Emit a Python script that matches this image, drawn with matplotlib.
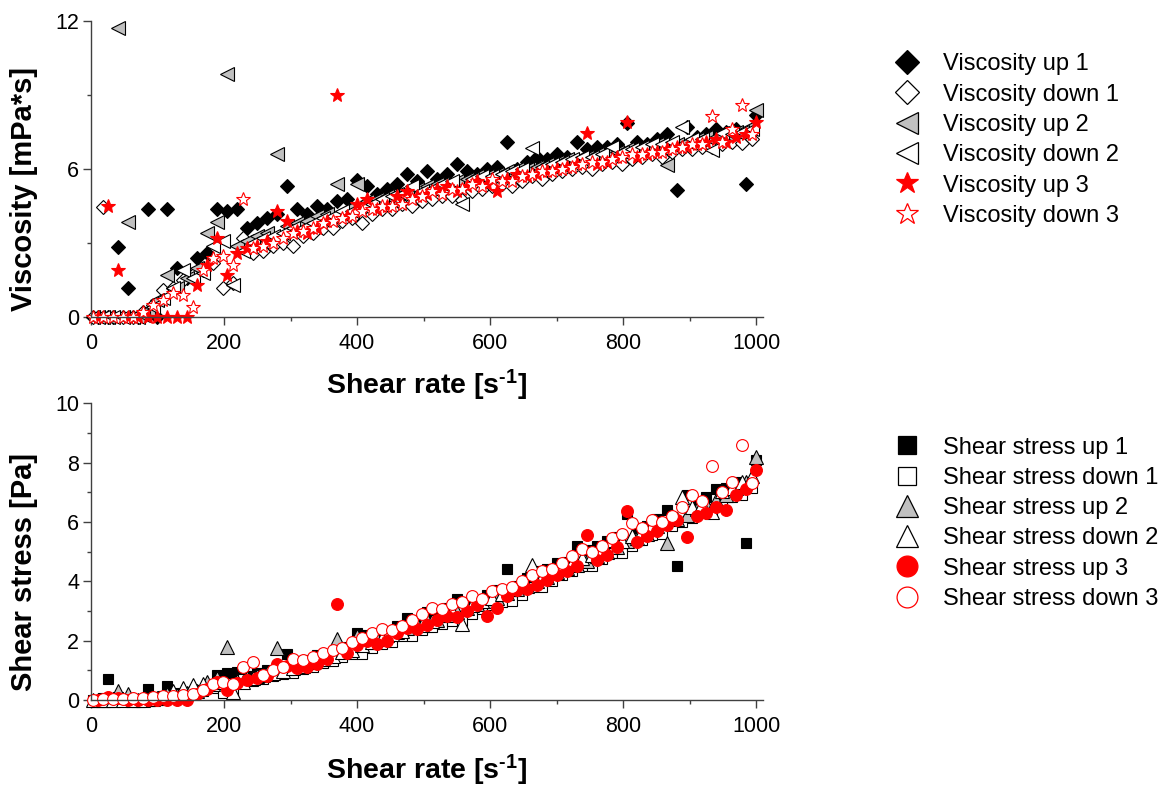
import matplotlib
matplotlib.use("Agg")
import matplotlib.pyplot as plt
from matplotlib.lines import Line2D
from matplotlib.ticker import MultipleLocator

plt.rcParams["font.family"] = ["Liberation Sans", "DejaVu Sans"]
plt.rcParams["mathtext.fontset"] = "custom"
plt.rcParams["mathtext.rm"] = "Liberation Sans:bold"
plt.rcParams["mathtext.bf"] = "Liberation Sans:bold"
plt.rcParams["mathtext.default"] = "regular"

# Shear-rate ramps (s^-1)
rate_up = [10, 25, 40, 55, 70, 85, 100, 115, 130, 145,
           160, 175, 190, 205, 220, 235, 250, 265, 280, 295,
           310, 325, 340, 355, 370, 385, 400, 415, 430, 445,
           460, 475, 490, 505, 520, 535, 550, 565, 580, 595,
           610, 625, 640, 655, 670, 685, 700, 715, 730, 745,
           760, 775, 790, 805, 820, 835, 850, 865, 880, 895,
           910, 925, 940, 955, 970, 985, 1000]
rate_down = [3, 18, 33, 48, 63, 78, 93, 108, 123, 138,
             153, 168, 183, 198, 213, 228, 243, 258, 273, 288,
             303, 318, 333, 348, 363, 378, 393, 408, 423, 438,
             453, 468, 483, 498, 513, 528, 543, 558, 573, 588,
             603, 618, 633, 648, 663, 678, 693, 708, 723, 738,
             753, 768, 783, 798, 813, 828, 843, 858, 873, 888,
             903, 918, 933, 948, 963, 978, 993]

# Viscosity (mPa*s)
visc_up1 = [0, 0, 2.85, 1.2, 0, 4.4, 0, 4.4, 2.0, 1.6,
            2.4, 2.6, 4.4, 4.3, 4.4, 3.6, 3.8, 4.0, 4.2, 5.3,
            4.4, 4.2, 4.5, 4.4, 4.7, 4.8, 5.55, 5.3, 5.0, 5.2,
            5.4, 5.8, 5.5, 5.9, 5.6, 5.8, 6.2, 5.9, 5.8, 6.0,
            6.1, 7.1, 6.0, 6.3, 6.5, 6.4, 6.6, 6.5, 7.1, 6.8,
            6.9, 6.9, 7.0, 7.85, 7.1, 7.0, 7.2, 7.4, 5.15, 7.7,
            7.3, 7.4, 7.6, 7.5, 7.6, 5.4, 8.2]
visc_down1 = [0, 4.45, 0, 0, 0, 0.2, 0.5, 1.1, 1.2, 1.5,
              1.7, 1.9, 2.2, 1.2, 1.4, 3.2, 2.6, 2.7, 2.9, 3.0,
              2.9, 3.3, 3.4, 3.6, 3.6, 3.9, 4.0, 3.8, 4.2, 4.4,
              4.4, 4.6, 4.5, 4.7, 4.8, 4.9, 4.9, 4.75, 5.1, 5.2,
              5.3, 5.4, 5.3, 5.5, 5.7, 5.6, 5.8, 5.9, 6.0, 6.1,
              6.0, 6.2, 6.3, 6.2, 6.4, 6.5, 6.6, 6.5, 6.7, 6.8,
              6.8, 6.9, 6.9, 7.0, 7.1, 7.05, 7.2]
visc_up2 = [0, 0, 11.7, 3.85, 0, 0.3, 0.7, 1.7, 1.2, 1.6,
            2.0, 3.4, 3.85, 9.85, 2.9, 3.1, 3.3, 3.4, 6.6, 3.7,
            3.8, 3.9, 4.1, 4.2, 5.4, 4.4, 5.4, 4.7, 4.8, 4.9,
            5.0, 5.1, 5.2, 5.3, 5.4, 5.4, 5.5, 5.6, 5.7, 5.7,
            5.8, 5.9, 6.0, 6.0, 6.1, 6.2, 6.3, 6.4, 6.4, 6.5,
            6.6, 6.6, 6.7, 6.8, 6.8, 6.9, 7.0, 6.15, 7.0, 7.1,
            7.2, 7.3, 7.3, 7.4, 7.5, 7.6, 8.4]
visc_down2 = [0, 0, 0, 0, 0, 0.1, 0.4, 0.8, 1.2, 1.9,
              1.6, 1.8, 2.9, 3.1, 1.3, 2.7, 3.0, 3.2, 3.3, 3.4,
              3.6, 3.6, 3.8, 4.0, 4.1, 4.3, 4.3, 4.5, 4.6, 4.8,
              4.9, 5.0, 5.3, 5.1, 5.2, 5.4, 5.5, 4.6, 5.6, 5.7,
              5.7, 5.8, 5.9, 6.0, 6.85, 6.1, 6.2, 6.3, 6.4, 6.5,
              6.5, 6.6, 6.9, 6.7, 6.8, 6.9, 7.0, 7.0, 7.1, 7.7,
              7.2, 7.2, 6.77, 7.45, 7.4, 7.5, 7.6]
visc_up3 = [0, 4.5, 1.9, 0, 0, 0, 0, 0, 0, 0,
            1.3, 2.1, 3.2, 1.7, 2.6, 2.8, 2.9, 3.1, 4.3, 3.9,
            3.5, 3.4, 3.6, 3.9, 9.0, 4.1, 4.6, 4.8, 4.4, 4.5,
            4.9, 5.1, 4.9, 5.0, 5.2, 5.3, 5.1, 5.3, 5.5, 5.4,
            5.1, 5.6, 5.8, 5.7, 5.8, 5.9, 6.0, 6.1, 6.2, 7.47,
            6.2, 6.3, 6.5, 7.92, 6.5, 6.6, 6.7, 6.8, 6.9, 6.9,
            7.0, 7.1, 7.2, 7.1, 7.3, 7.4, 7.9]
visc_down3 = [0, 0, 0, 0, 0, 0.2, 0.5, 0.7, 1.0, 0.9,
              0.4, 1.9, 2.4, 2.5, 2.1, 4.8, 2.8, 2.9, 3.0, 3.2,
              3.4, 3.5, 3.6, 3.8, 3.9, 4.0, 4.1, 4.3, 4.4, 4.5,
              4.5, 4.6, 4.8, 4.9, 5.1, 5.0, 5.2, 5.2, 5.4, 5.3,
              5.6, 5.5, 5.5, 5.7, 5.8, 5.9, 5.9, 6.0, 6.1, 6.2,
              6.3, 6.3, 6.4, 6.5, 6.6, 6.6, 6.7, 6.7, 6.8, 6.9,
              7.0, 7.0, 8.15, 7.1, 7.6, 8.6, 7.4]

# Shear stress (Pa)
stress_up1 = [0.0, 0.71, 0.1, 0.05, 0.0, 0.37, 0.0, 0.47, 0.25, 0.22,
              0.35, 0.45, 0.85, 0.9, 0.95, 0.8, 0.9, 1.0, 1.15, 1.55,
              1.3, 1.35, 1.5, 1.55, 1.75, 1.8, 2.25, 2.2, 2.15, 2.3,
              2.5, 2.75, 2.7, 2.95, 2.9, 3.1, 3.4, 3.3, 3.35, 3.55,
              3.7, 4.43, 3.85, 4.1, 4.35, 4.4, 4.6, 4.65, 5.2, 5.05,
              5.2, 5.35, 5.5, 6.28, 5.8, 5.85, 6.1, 6.4, 4.5, 6.9,
              6.6, 6.85, 7.1, 7.15, 7.35, 5.3, 8.1]
stress_down1 = [0.0, 0.08, 0.0, 0.0, 0.0, 0.02, 0.05, 0.12, 0.15, 0.2,
                0.26, 0.3, 0.4, 0.25, 0.3, 0.72, 0.64, 0.7, 0.8, 0.86,
                0.9, 1.05, 1.1, 1.25, 1.3, 1.45, 1.55, 1.55, 1.75, 1.9,
                1.95, 2.15, 2.15, 2.35, 2.45, 2.55, 2.65, 2.67, 2.9, 3.05,
                3.2, 3.3, 3.35, 3.55, 3.8, 3.8, 4.0, 4.2, 4.35, 4.5,
                4.5, 4.75, 4.95, 4.95, 5.2, 5.4, 5.55, 5.6, 5.85, 6.0,
                6.15, 6.3, 6.45, 6.6, 6.85, 6.9, 7.15]
stress_up2 = [0.0, 0.0, 0.3, 0.2, 0.0, 0.03, 0.07, 0.2, 0.16, 0.23,
              0.32, 0.6, 0.73, 1.8, 0.64, 0.73, 0.82, 0.9, 1.75, 1.09,
              1.18, 1.27, 1.39, 1.49, 2.05, 1.69, 2.15, 1.95, 2.06, 2.18,
              2.3, 2.42, 2.55, 2.68, 2.7, 2.85, 2.95, 3.1, 3.25, 3.35,
              3.45, 3.6, 3.75, 3.85, 4.0, 4.15, 4.3, 4.45, 4.55, 4.7,
              4.85, 5.0, 5.15, 5.35, 5.45, 5.6, 5.85, 5.3, 6.1, 6.25,
              6.45, 6.6, 6.75, 6.9, 7.15, 7.35, 8.2]
stress_down2 = [0.0, 0.0, 0.0, 0.0, 0.0, 0.01, 0.04, 0.09, 0.3, 0.4,
                0.5, 0.55, 0.53, 0.61, 0.28, 0.62, 0.73, 0.83, 0.9, 0.98,
                1.09, 1.14, 1.27, 1.39, 1.49, 1.63, 1.69, 1.84, 1.95, 2.1,
                2.22, 2.34, 2.56, 2.54, 2.67, 2.85, 2.99, 2.57, 3.21, 3.35,
                3.44, 3.58, 3.73, 3.89, 4.54, 4.14, 4.3, 4.46, 4.63, 4.8,
                4.89, 5.07, 5.4, 5.35, 5.53, 5.71, 5.9, 6.01, 6.2, 6.84,
                6.5, 6.61, 6.32, 7.06, 7.13, 7.34, 7.55]
stress_up3 = [0.0, 0.11, 0.08, 0.0, 0.0, 0.0, 0.0, 0.0, 0.0, 0.0,
              0.21, 0.37, 0.61, 0.35, 0.57, 0.66, 0.73, 0.82, 1.2, 1.15,
              1.09, 1.11, 1.22, 1.38, 3.25, 1.58, 1.84, 1.99, 1.89, 2.0,
              2.25, 2.42, 2.4, 2.53, 2.7, 2.84, 2.8, 2.99, 3.19, 2.84,
              3.11, 3.5, 3.71, 3.73, 3.89, 4.04, 4.2, 4.36, 4.53, 5.56,
              4.71, 4.88, 5.14, 6.38, 5.33, 5.51, 5.7, 5.9, 6.07, 5.5,
              6.2, 6.3, 6.5, 6.4, 6.9, 7.1, 7.75]
stress_down3 = [0.0, 0.02, 0.03, 0.05, 0.06, 0.08, 0.1, 0.12, 0.15, 0.17,
                0.2, 0.35, 0.55, 0.6, 0.55, 1.1, 1.28, 0.85, 1.0, 1.1,
                1.38, 1.35, 1.45, 1.6, 1.7, 1.75, 1.95, 2.1, 2.25, 2.4,
                2.35, 2.5, 2.7, 2.9, 3.1, 3.05, 3.25, 3.3, 3.5, 3.4,
                3.68, 3.75, 3.8, 4.0, 4.2, 4.35, 4.4, 4.6, 4.85, 5.1,
                5.0, 5.2, 5.45, 5.6, 5.95, 5.8, 6.05, 6.0, 6.2, 6.5,
                6.9, 6.7, 7.9, 7.0, 7.35, 8.6, 7.3]

visc_labels = ["Viscosity up 1", "Viscosity down 1", "Viscosity up 2",
               "Viscosity down 2", "Viscosity up 3", "Viscosity down 3"]
stress_labels = ["Shear stress up 1", "Shear stress down 1", "Shear stress up 2",
                 "Shear stress down 2", "Shear stress up 3", "Shear stress down 3"]

GREY = "#c0c0c0"
RED = "#ff0000"
AXC = "#404040"

# (marker, plot size, legend size, face, edge)
visc_styles = [("D", 7.6, 12.5, "black", "black"),
               ("D", 7.6, 12.5, "white", "black"),
               ("<", 9.5, 15.5, GREY, "black"),
               ("<", 9.5, 15.5, "white", "black"),
               ("*", 10.5, 16.5, RED, RED),
               ("*", 10.5, 16.5, "white", RED)]
stress_styles = [("s", 7.8, 12.8, "black", "black"),
                 ("s", 7.8, 12.8, "white", "black"),
                 ("^", 10.0, 15.5, GREY, "black"),
                 ("^", 10.0, 15.5, "white", "black"),
                 ("o", 8.5, 15.0, RED, RED),
                 ("o", 8.5, 15.0, "white", RED)]

visc_series = [(rate_up, visc_up1), (rate_down, visc_down1),
               (rate_up, visc_up2), (rate_down, visc_down2),
               (rate_up, visc_up3), (rate_down, visc_down3)]
stress_series = [(rate_up, stress_up1), (rate_down, stress_down1),
                 (rate_up, stress_up2), (rate_down, stress_down2),
                 (rate_up, stress_up3), (rate_down, stress_down3)]

fig = plt.figure(figsize=(11.75, 7.89), dpi=100)
ax1 = fig.add_axes([0.0774, 0.5978, 0.572, 0.376])
ax2 = fig.add_axes([0.0774, 0.1128, 0.572, 0.3761])


def draw_panel(ax, series, styles, labels, ymax, ymajor, yminor, ylabel,
               ylabel_y, xlabel_y, leg_top):
    for (x, y), (mk, ms, _, fc, ec) in zip(series, styles):
        ax.plot(x, y, linestyle="none", marker=mk, markersize=ms,
                markerfacecolor=fc, markeredgecolor=ec, markeredgewidth=0.8,
                clip_on=False)
    ax.set_xlim(0, 1010)
    ax.set_ylim(0, ymax)
    ax.xaxis.set_major_locator(MultipleLocator(200))
    ax.xaxis.set_minor_locator(MultipleLocator(100))
    ax.yaxis.set_major_locator(MultipleLocator(ymajor))
    ax.yaxis.set_minor_locator(MultipleLocator(yminor))
    for side in ("top", "right"):
        ax.spines[side].set_visible(False)
    for side in ("left", "bottom"):
        ax.spines[side].set_color(AXC)
        ax.spines[side].set_linewidth(1.0)
    ax.tick_params(which="both", direction="out", color=AXC, width=1.0,
                   labelsize=15.5, labelcolor="black")
    ax.tick_params(which="major", length=5.5)
    ax.tick_params(which="minor", length=3)
    ax.tick_params(axis="x", which="major", pad=6)
    ax.tick_params(axis="y", which="major", pad=3)
    ax.set_xlabel("Shear rate [s$^{\\text{-1}}$]", fontsize=20.5,
                  fontweight="bold")
    ax.xaxis.set_label_coords(0.5, xlabel_y)
    ax.set_ylabel(ylabel, fontsize=21, fontweight="bold")
    ax.yaxis.set_label_coords(-0.079, ylabel_y)

    handles = [Line2D([], [], linestyle="none", marker=mk, markersize=lms,
                      markerfacecolor=fc, markeredgecolor=ec,
                      markeredgewidth=0.9)
               for (mk, _, lms, fc, ec) in styles]
    ax.legend(handles, labels, loc="upper left", bbox_to_anchor=(0.7619, leg_top),
              bbox_transform=fig.transFigure, frameon=False, fontsize=17,
              handlelength=1.0, handletextpad=1.025, labelspacing=0.35,
              borderpad=0, borderaxespad=0)


draw_panel(ax1, visc_series, visc_styles, visc_labels, 12, 6, 3,
           "Viscosity [mPa*s]", 0.4326, -0.17, 0.9322)
draw_panel(ax2, stress_series, stress_styles, stress_labels, 10, 2, 1,
           "Shear stress [Pa]", 0.4315, -0.1765, 0.4467)

fig.savefig("out.png", dpi=100)
